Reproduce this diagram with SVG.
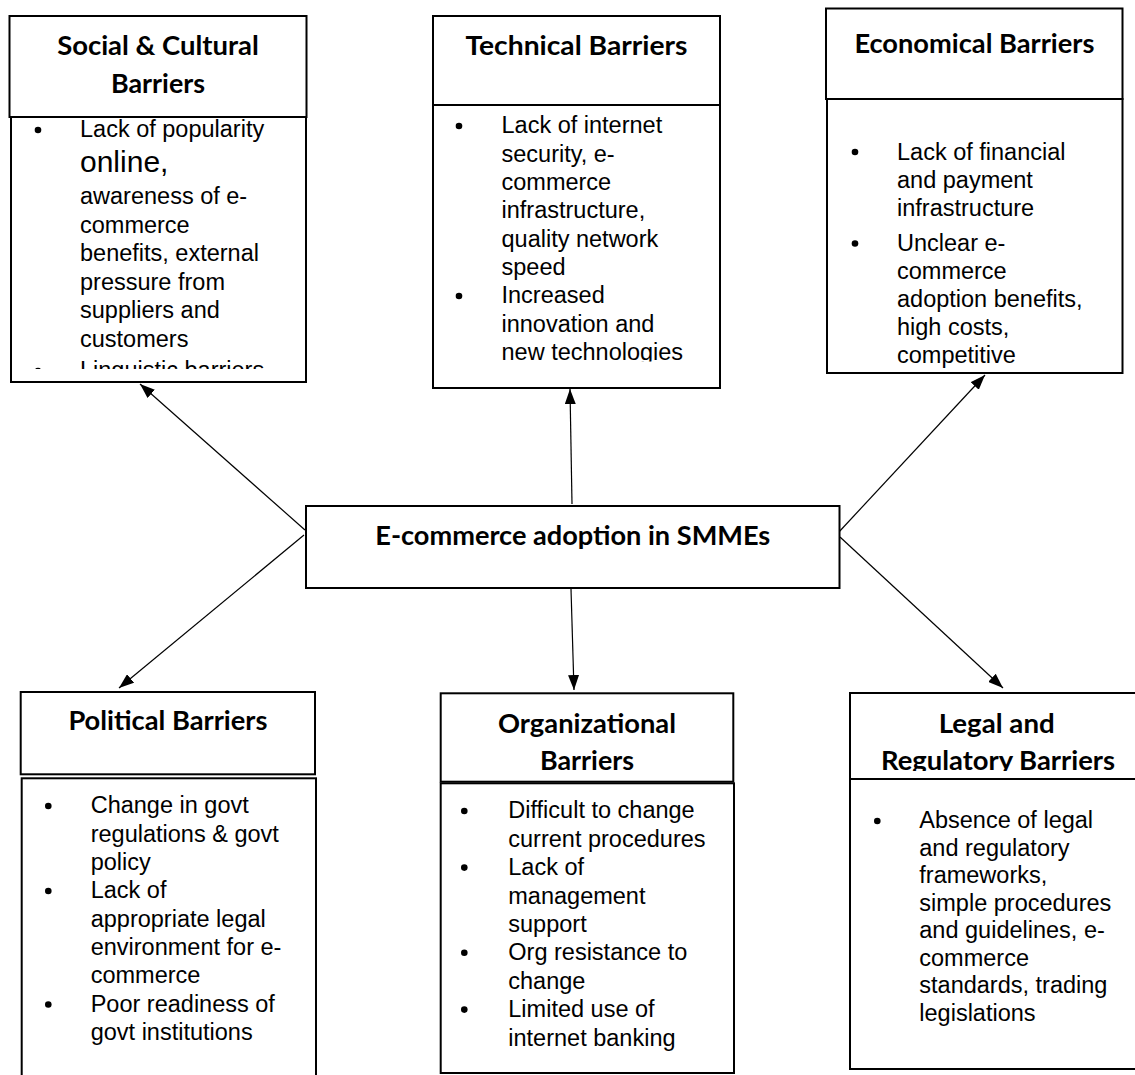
<svg xmlns="http://www.w3.org/2000/svg" width="1135" height="1075" viewBox="0 0 1135 1075">
  <style>
    .box { fill: #fff; stroke: #000; stroke-width: 2; }
    .hd { font-family: Lato, "Liberation Sans", sans-serif; font-weight: 700; font-size: 26.5px; fill: #000; text-anchor: middle; }
    .bd { font-family: "Liberation Sans", Arial, sans-serif; font-size: 23.5px; fill: #000; }
    .big { font-size: 30px; }
    .dot { fill: #000; }
    .conn line { stroke: #000; stroke-width: 1.2; marker-end: url(#ah); }
  </style>
  <defs>
    <marker id="ah" viewBox="0 0 15 11" refX="15" refY="5.5" markerWidth="15" markerHeight="11" markerUnits="userSpaceOnUse" orient="auto">
      <path d="M0,0 L15,5.5 L0,11 z" fill="#000"/>
    </marker>
    <clipPath id="clipSoc"><rect x="11" y="118" width="294" height="251"/></clipPath>
    <clipPath id="clipTech"><rect x="434" y="106" width="285" height="255.5"/></clipPath>
    <clipPath id="clipLegalHd"><rect x="851" y="694" width="290" height="77"/></clipPath>
  </defs>

  <!-- connectors from the central node to each barrier group -->
  <g id="connectors" class="conn">
    <line x1="305" y1="530" x2="140" y2="384"/>
    <line x1="572" y1="504" x2="570" y2="389"/>
    <line x1="838" y1="533" x2="985" y2="375"/>
    <line x1="304" y1="535" x2="119" y2="688"/>
    <line x1="571" y1="589" x2="574" y2="690"/>
    <line x1="840" y1="537" x2="1003" y2="688"/>
  </g>

  <!-- central node -->
  <g id="center">
    <rect class="box" x="306" y="506" width="533.5" height="82"/>
    <text class="hd" x="572.8" y="545" textLength="395" lengthAdjust="spacingAndGlyphs">E-commerce adoption in SMMEs</text>
  </g>

  <!-- Social & Cultural -->
  <g id="social">
    <rect class="box" x="9.5" y="16" width="297" height="101"/>
    <rect class="box" x="11" y="117" width="295" height="265"/>
    <text class="hd" x="158" y="55" textLength="201.7" lengthAdjust="spacingAndGlyphs">Social &amp; Cultural</text>
    <text class="hd" x="158" y="93" textLength="94" lengthAdjust="spacingAndGlyphs">Barriers</text>
    <g clip-path="url(#clipSoc)">
      <circle class="dot" cx="38" cy="130" r="3.3"/>
      <circle class="dot" cx="38" cy="371" r="3.3"/>
      <text class="bd">
        <tspan x="80" y="137">Lack of popularity</tspan>
        <tspan x="80" y="172" class="big">online,</tspan>
        <tspan x="80" y="204">awareness of e-</tspan>
        <tspan x="80" y="232.5">commerce</tspan>
        <tspan x="80" y="261">benefits, external</tspan>
        <tspan x="80" y="289.5">pressure from</tspan>
        <tspan x="80" y="318">suppliers and</tspan>
        <tspan x="80" y="346.5">customers</tspan>
        <tspan x="80" y="378">Linguistic barriers</tspan>
      </text>
    </g>
  </g>

  <!-- Technical -->
  <g id="technical">
    <rect class="box" x="433" y="16" width="287" height="89"/>
    <rect class="box" x="433" y="105" width="287" height="283"/>
    <text class="hd" x="576.5" y="55" textLength="222" lengthAdjust="spacingAndGlyphs">Technical Barriers</text>
    <g clip-path="url(#clipTech)">
      <circle class="dot" cx="459" cy="126" r="3.3"/>
      <circle class="dot" cx="459" cy="296" r="3.3"/>
      <text class="bd">
        <tspan x="501.5" y="133">Lack of internet</tspan>
        <tspan x="501.5" y="161.5">security, e-</tspan>
        <tspan x="501.5" y="190">commerce</tspan>
        <tspan x="501.5" y="218">infrastructure,</tspan>
        <tspan x="501.5" y="246.5">quality network</tspan>
        <tspan x="501.5" y="275">speed</tspan>
        <tspan x="501.5" y="303">Increased</tspan>
        <tspan x="501.5" y="331.5">innovation and</tspan>
        <tspan x="501.5" y="360">new technologies</tspan>
      </text>
    </g>
  </g>

  <!-- Economical -->
  <g id="economical">
    <rect class="box" x="826" y="8.5" width="296.5" height="90.5"/>
    <rect class="box" x="827" y="99" width="295.5" height="274"/>
    <text class="hd" x="974.4" y="53" textLength="240" lengthAdjust="spacingAndGlyphs">Economical Barriers</text>
    <circle class="dot" cx="855" cy="152" r="3.3"/>
    <circle class="dot" cx="855" cy="243.5" r="3.3"/>
    <text class="bd">
      <tspan x="897" y="159.5">Lack of financial</tspan>
      <tspan x="897" y="187.5">and payment</tspan>
      <tspan x="897" y="215.5">infrastructure</tspan>
      <tspan x="897" y="251">Unclear e-</tspan>
      <tspan x="897" y="279">commerce</tspan>
      <tspan x="897" y="307">adoption benefits,</tspan>
      <tspan x="897" y="335">high costs,</tspan>
      <tspan x="897" y="363">competitive</tspan>
    </text>
  </g>

  <!-- Political -->
  <g id="political">
    <rect class="box" x="20.7" y="692" width="294.3" height="82.3"/>
    <rect class="box" x="21.7" y="778.3" width="294.3" height="310"/>
    <text class="hd" x="167.9" y="730" textLength="199" lengthAdjust="spacingAndGlyphs">Political Barriers</text>
    <circle class="dot" cx="48.3" cy="806" r="3.3"/>
    <circle class="dot" cx="48.3" cy="891" r="3.3"/>
    <circle class="dot" cx="48.3" cy="1004.5" r="3.3"/>
    <text class="bd">
      <tspan x="90.7" y="813.3">Change in govt</tspan>
      <tspan x="90.7" y="841.7">regulations &amp; govt</tspan>
      <tspan x="90.7" y="870">policy</tspan>
      <tspan x="90.7" y="898.3">Lack of</tspan>
      <tspan x="90.7" y="926.7">appropriate legal</tspan>
      <tspan x="90.7" y="955">environment for e-</tspan>
      <tspan x="90.7" y="983.3">commerce</tspan>
      <tspan x="90.7" y="1011.7">Poor readiness of</tspan>
      <tspan x="90.7" y="1040">govt institutions</tspan>
    </text>
  </g>

  <!-- Organizational -->
  <g id="organizational">
    <rect class="box" x="440.7" y="693.3" width="292.6" height="88.4"/>
    <rect class="box" x="440.7" y="783.3" width="293.3" height="289.7"/>
    <text class="hd" x="587" y="733.3" textLength="178" lengthAdjust="spacingAndGlyphs">Organizational</text>
    <text class="hd" x="587" y="770" textLength="94" lengthAdjust="spacingAndGlyphs">Barriers</text>
    <circle class="dot" cx="464.3" cy="811" r="3.3"/>
    <circle class="dot" cx="464.3" cy="867.6" r="3.3"/>
    <circle class="dot" cx="464.3" cy="952.8" r="3.3"/>
    <circle class="dot" cx="464.3" cy="1009.6" r="3.3"/>
    <text class="bd">
      <tspan x="508.3" y="818.3">Difficult to change</tspan>
      <tspan x="508.3" y="846.7">current procedures</tspan>
      <tspan x="508.3" y="875.1">Lack of</tspan>
      <tspan x="508.3" y="903.5">management</tspan>
      <tspan x="508.3" y="931.9">support</tspan>
      <tspan x="508.3" y="960.3">Org resistance to</tspan>
      <tspan x="508.3" y="988.7">change</tspan>
      <tspan x="508.3" y="1017.1">Limited use of</tspan>
      <tspan x="508.3" y="1045.5">internet banking</tspan>
    </text>
  </g>

  <!-- Legal and Regulatory -->
  <g id="legal">
    <rect class="box" x="850" y="693" width="300" height="86"/>
    <rect class="box" x="850" y="779" width="300" height="290"/>
    <g clip-path="url(#clipLegalHd)">
      <text class="hd" x="996.7" y="733" textLength="116" lengthAdjust="spacingAndGlyphs">Legal and</text>
      <text class="hd" x="998" y="770" textLength="234" lengthAdjust="spacingAndGlyphs">Regulatory Barriers</text>
    </g>
    <circle class="dot" cx="877.3" cy="821" r="3.3"/>
    <text class="bd">
      <tspan x="919.3" y="828.3">Absence of legal</tspan>
      <tspan x="919.3" y="855.5">and regulatory</tspan>
      <tspan x="919.3" y="883">frameworks,</tspan>
      <tspan x="919.3" y="910.5">simple procedures</tspan>
      <tspan x="919.3" y="938">and guidelines, e-</tspan>
      <tspan x="919.3" y="965.5">commerce</tspan>
      <tspan x="919.3" y="993">standards, trading</tspan>
      <tspan x="919.3" y="1020.5">legislations</tspan>
    </text>
  </g>
</svg>
